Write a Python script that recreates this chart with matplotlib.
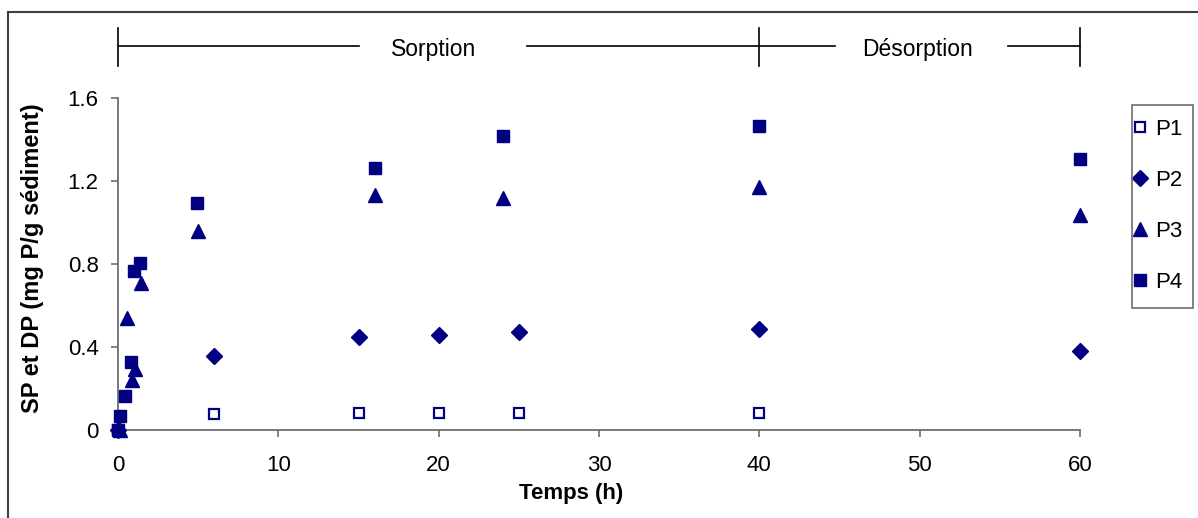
import numpy as np
import matplotlib
matplotlib.use("Agg")
import matplotlib.pyplot as plt
from matplotlib.lines import Line2D
from matplotlib.patches import Rectangle

plt.rcParams['font.family'] = ['Liberation Sans', 'DejaVu Sans']

# temps (h) et SP/DP (mg P/g sediment)
t_p1 = [0, 6, 15, 20, 25, 40]
v_p1 = [0, 0.075, 0.083, 0.083, 0.083, 0.083]
t_p2 = [0, 6, 15, 20, 25, 40, 60]
v_p2 = [0, 0.357, 0.45, 0.46, 0.47, 0.485, 0.382]
t_p3 = [0.1, 0.54, 0.85, 1.08, 1.41, 5, 16, 24, 40, 60]
v_p3 = [0, 0.538, 0.241, 0.292, 0.71, 0.96, 1.133, 1.117, 1.173, 1.036]
t_p4 = [0, 0.12, 0.46, 0.79, 1.02, 1.37, 4.93, 16, 24, 40, 60]
v_p4 = [0, 0.067, 0.164, 0.328, 0.768, 0.803, 1.096, 1.261, 1.417, 1.467, 1.305]

xticks = [0, 10, 20, 30, 40, 50, 60]
yticks = [0, 0.4, 0.8, 1.2, 1.6]
ytick_labels = ["0", "0.4", "0.8", "1.2", "1.6"]

navy = "#000080"
axcol = "#6e6e6e"
fs = 16

fig = plt.figure(figsize=(11.98, 5.18), dpi=100)
ax = fig.add_axes([118/1198, 88/518, 962/1198, 332/518])

ax.plot(t_p1, v_p1, ls="none", marker="s", ms=7.5, mfc="white", mec=navy, mew=1.6,
        label="P1", clip_on=False, zorder=3)
ax.plot(t_p2, v_p2, ls="none", marker="D", ms=8, color=navy, label="P2", clip_on=False, zorder=3)
ax.plot(t_p3, v_p3, ls="none", marker="^", ms=9.5, color=navy, label="P3", clip_on=False, zorder=3)
ax.plot(t_p4, v_p4, ls="none", marker="s", ms=8.5, color=navy, label="P4", clip_on=False, zorder=3)

ax.set_xlim(0, 60)
ax.set_ylim(0, 1.6)
ax.set_xticks(xticks)
ax.set_yticks(yticks)
ax.set_yticklabels(ytick_labels)
for s in ["top", "right"]:
    ax.spines[s].set_visible(False)
for s in ["left", "bottom"]:
    ax.spines[s].set_color(axcol)
    ax.spines[s].set_linewidth(1.3)
ax.tick_params(axis="both", colors=axcol, labelcolor="black", labelsize=fs,
               length=5, width=1.2, direction="out")
ax.tick_params(axis="y", pad=9)
ax.tick_params(axis="x", pad=13)

ax.set_xlabel("Temps (h)", fontsize=fs, fontweight="bold")
ax.xaxis.set_label_coords(0.471, -0.19)
ax.xaxis.label.set_va("center")
ax.set_ylabel("SP et DP (mg P/g sédiment)", fontsize=17, fontweight="bold")
ax.yaxis.set_label_coords(-0.089, 0.5166)
ax.yaxis.label.set_va("center")

leg = ax.legend(loc="upper left", bbox_to_anchor=(1134/1198, 1 - 119/518),
                bbox_transform=fig.transFigure, frameon=False,
                fontsize=fs, labelspacing=1.35, handlelength=0.5, handletextpad=0.45,
                borderpad=0, borderaxespad=0)
fig.add_artist(Rectangle((1132/1198, 1 - 308/518), 61/1198, 203/518,
                         transform=fig.transFigure, fill=False, edgecolor=axcol, lw=1.2))

# bandeau Sorption / Desorption au-dessus du graphique
tr = ax.get_xaxis_transform()
yl, ycap0, ycap1 = 1.1566, 1.0964, 1.2108
for x0, x1 in [(0, 15.0), (25.5, 40), (40, 44.7), (55.5, 60)]:
    ax.add_line(Line2D([x0, x1], [yl, yl], transform=tr, color="black", lw=1.2, clip_on=False))
for xc in [0, 40, 60]:
    ax.add_line(Line2D([xc, xc], [ycap0, ycap1], transform=tr, color="black", lw=1.2, clip_on=False))
ax.text(19.7, 1.146, "Sorption", transform=tr, ha="center", va="center", fontsize=16.5)
ax.text(49.85, 1.146, "Désorption", transform=tr, ha="center", va="center", fontsize=16.5)

# cadre de la zone du graphique
fig.add_artist(Line2D([8/1198, 8/1198], [0, 1 - 12/518], color="#404040", lw=1.5))
fig.add_artist(Line2D([8/1198, 1], [1 - 12/518, 1 - 12/518], color="#404040", lw=1.5))

fig.savefig("out.png", dpi=100)
